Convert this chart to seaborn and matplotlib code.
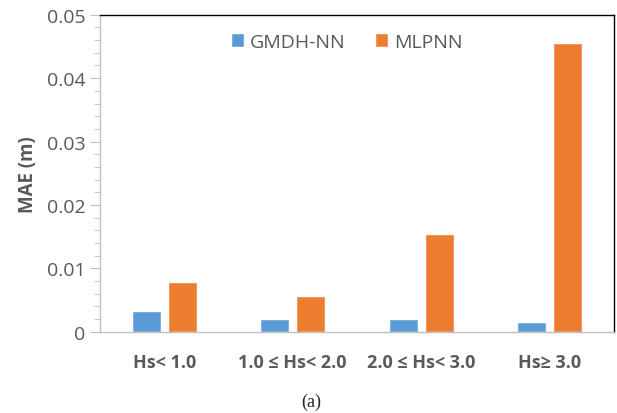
import pandas as pd
import numpy as np
import matplotlib.pyplot as plt
import seaborn as sns
from matplotlib.ticker import MultipleLocator, FuncFormatter

# categories and MAE values
categories = ['Hs< 1.0', '1.0 \u2264 Hs< 2.0', '2.0 \u2264 Hs< 3.0', 'Hs\u2265 3.0']
models = ['GMDH-NN', 'MLPNN']
gmdh_mae = [0.0033, 0.0021, 0.0021, 0.0015]
mlpnn_mae = [0.0078, 0.0056, 0.0154, 0.0455]

df = pd.DataFrame({
    'range': categories * 2,
    'model': [models[0]] * 4 + [models[1]] * 4,
    'mae': gmdh_mae + mlpnn_mae,
})

sns.set_style('white')
plt.rcParams['font.family'] = ['Open Sans', 'DejaVu Sans']

fig = plt.figure(figsize=(6.17, 4.14), dpi=100)
ax = fig.add_axes([0.162, 0.196, 0.833, 0.766])

sns.barplot(data=df, x='range', y='mae', hue='model', ax=ax,
            palette=['#5B9BD5', '#ED7D31'], width=0.56, gap=0.2,
            saturation=1, errorbar=None)

ax.set_xlim(-0.5, 3.5)
ax.set_ylim(0, 0.05)
ax.yaxis.set_major_locator(MultipleLocator(0.01))
ax.yaxis.set_minor_locator(MultipleLocator(0.002))
ax.yaxis.set_major_formatter(FuncFormatter(lambda v, p: '0' if abs(v) < 1e-9 else f'{v:.2f}'))
ax.tick_params(axis='y', which='both', left=True, direction='out',
               color='#bfbfbf', labelcolor='#595959', labelsize=14, length=7)
ax.tick_params(axis='y', which='minor', length=4)
ax.tick_params(axis='x', bottom=False, labelcolor='#595959', labelsize=13, pad=12)
for lab in ax.get_xticklabels():
    lab.set_fontweight('bold')

ax.set_xlabel('')
ax.set_ylabel('MAE (m)', fontsize=13.5, fontweight='bold', color='#595959', labelpad=6)

for side in ['top', 'right']:
    ax.spines[side].set_color('black')
    ax.spines[side].set_linewidth(1.0)
for side in ['left', 'bottom']:
    ax.spines[side].set_color('#bfbfbf')
    ax.spines[side].set_linewidth(1.0)

leg = ax.legend(loc='center', bbox_to_anchor=(0.48, 0.915), ncol=2, frameon=False,
                fontsize=14, handlelength=0.7, handleheight=0.7, handletextpad=0.3,
                columnspacing=1.5)
for t in leg.get_texts():
    t.set_color('#595959')

fig.text(0.505, 0.027, '(a)', ha='center', va='center', fontsize=13,
         family=['Liberation Serif', 'DejaVu Serif'])

fig.savefig('out.png', dpi=100)
